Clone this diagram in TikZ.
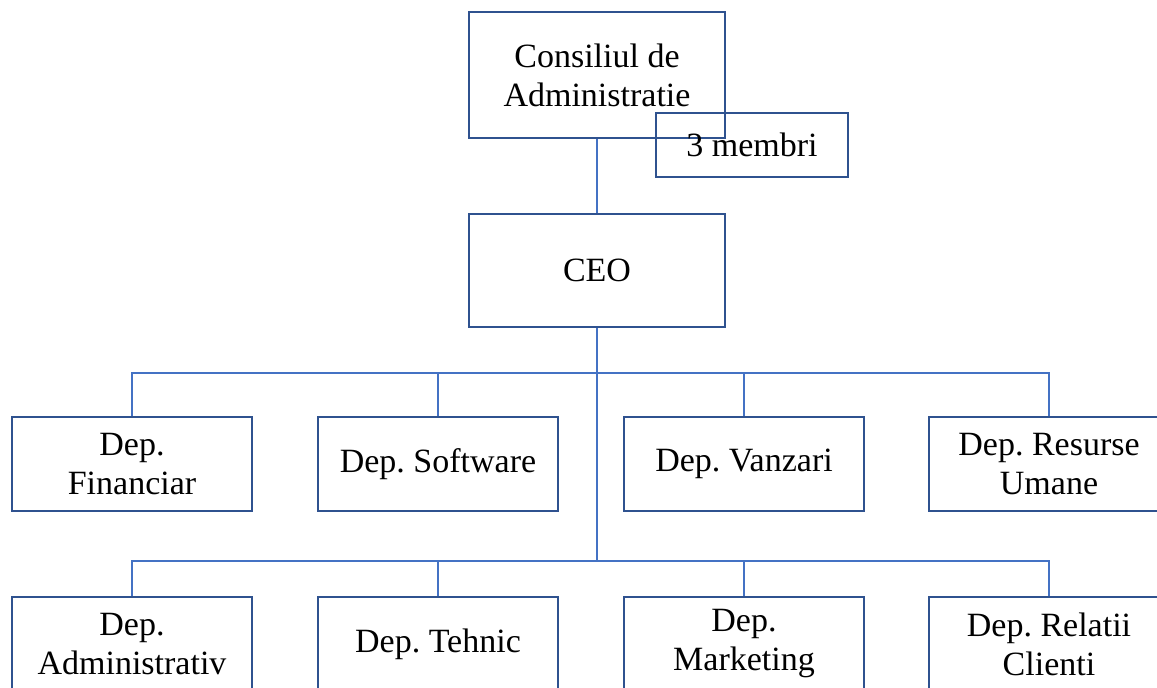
\documentclass[tikz,border=0pt]{standalone}
\usepackage{fontspec}
\setmainfont{Liberation Serif}
\usepackage{xcolor}
\definecolor{boxblue}{RGB}{47,82,143}
\definecolor{linkblue}{RGB}{68,114,196}
\frenchspacing

\tikzset{
  box/.style={draw=boxblue, line width=1pt, fill=white, align=center, inner sep=0pt,
    font=\fontsize{17}{19.5}\selectfont},
  dep/.style={box, minimum width=120pt, minimum height=47pt},
  link/.style={draw=linkblue, line width=0.75pt}
}

\begin{document}
\begin{tikzpicture}[x=0.5pt, y=-0.5pt]
\useasboundingbox (0,0) rectangle (1157,687);

%bus coordinates
\coordinate (busone) at (598,373); \coordinate (bustwo) at (598,561);

%top boxes
\node [box, minimum width=128pt, minimum height=63pt] (board) at (597,75) {Consiliul de\\Administratie};
\node [box, minimum width=128pt, minimum height=56.5pt] (ceo) at (597,270) {CEO};

%first row
\node [dep] (fin) at (132,464) {Dep.\\Financiar};
\node [dep] (soft) at (438,464) {Dep. Software};
\node [dep] (vanz) at (744,464) {Dep. Vanzari};
\node [dep] (res) at (1049,464) {Dep. Resurse\\Umane};

%second row
\node [dep] (adm) at (132,644) {Dep.\\Administrativ};
\node [dep] (teh) at (438,644) {Dep. Tehnic};
\node [dep] (mkt) at (744,644) {Dep.\\Marketing};
\node [dep] (rel) at (1049,644) {Dep. Relatii\\Clienti};

%connectors
\draw [link] (board.south) -- (ceo.north);
\draw [link] (ceo.south) -- (ceo.south |- bustwo);
\foreach \n in {fin,soft,vanz,res} \draw [link] (ceo.south |- busone) -| (\n.north);
\foreach \n in {adm,teh,mkt,rel} \draw [link] (ceo.south |- bustwo) -| (\n.north);

%members box, no fill
\node [box, fill=none, minimum width=96pt, minimum height=32pt] (members) at (752,145) {\raisebox{-3pt}{3 membri}};
\end{tikzpicture}
\end{document}
